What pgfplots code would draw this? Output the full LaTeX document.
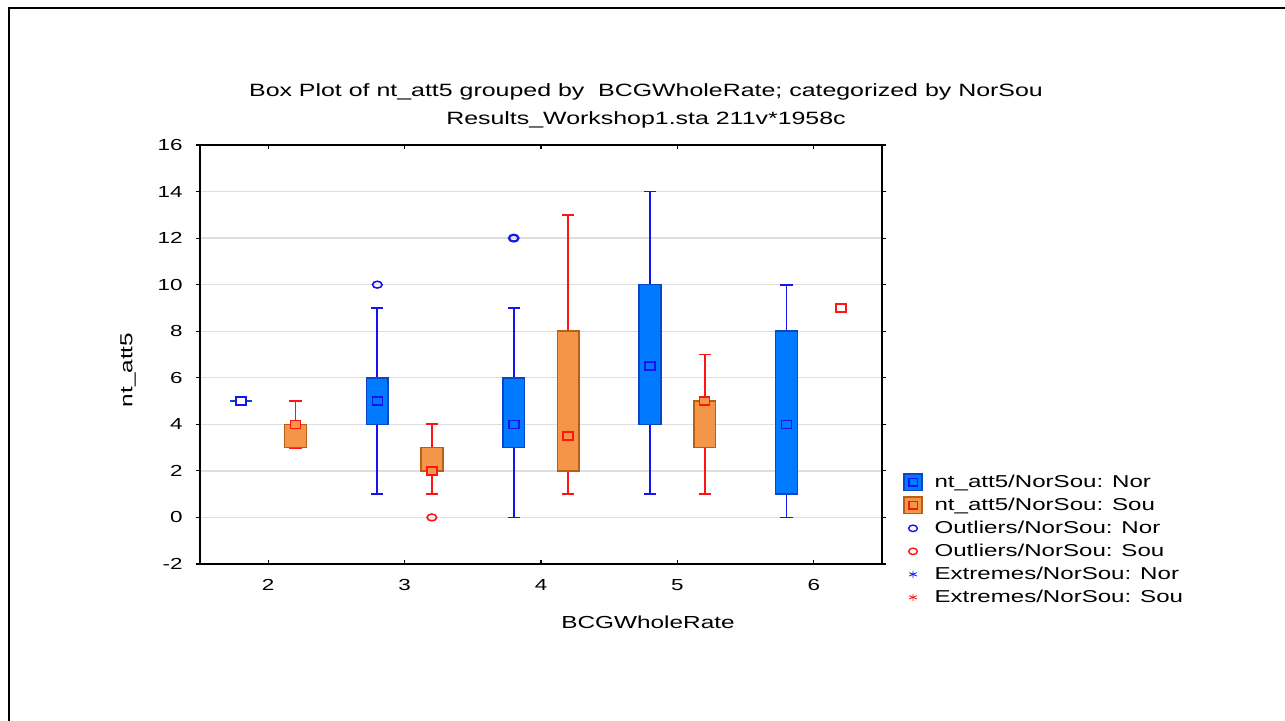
\documentclass[border=0pt]{standalone}
\usepackage{pgfplots}
\pgfplotsset{compat=1.18}
\usepgfplotslibrary{statistics}
\usepackage{fontspec}
\setmainfont{Liberation Sans}[FakeStretch=1.4]
\definecolor{norfill}{RGB}{0,122,255}
\definecolor{norborder}{RGB}{10,70,200}
\definecolor{norline}{RGB}{20,20,240}
\definecolor{soufill}{RGB}{243,150,71}
\definecolor{souborder}{RGB}{185,95,20}
\definecolor{souline}{RGB}{255,20,20}
\pgfplotsset{
  norbox/.style={norline, line width=0.9pt, forget plot,
    boxplot/draw direction=y,
    boxplot/box extend=0.16, boxplot/whisker extend=0.09,
    boxplot/every whisker/.style={line width=0.9pt},
    boxplot/every box/.style={draw=norborder, fill=norfill, line width=0.8pt},
    boxplot/every median/.style={draw=none}},
  soubox/.style={souline, line width=0.9pt, forget plot,
    boxplot/draw direction=y,
    boxplot/box extend=0.16, boxplot/whisker extend=0.09,
    boxplot/every whisker/.style={line width=0.9pt},
    boxplot/every box/.style={draw=souborder, fill=soufill, line width=0.8pt},
    boxplot/every median/.style={draw=none}},
}
\begin{document}
\begin{tikzpicture}
\path[use as bounding box] (-100pt,-78.5pt) rectangle (542.5pt,282pt);
\draw[line width=1.1pt] (-95.5pt,-80pt) -- (-95.5pt,278pt) -- (545pt,278pt);
\begin{axis}[
  at={(0pt,0pt)}, anchor=south west,
  scale only axis, width=341pt, height=209.5pt,
  xmin=1.5, xmax=6.5, ymin=-2, ymax=16,
  xtick={2,3,4,5,6}, ytick={-2,0,2,4,6,8,10,12,14,16},
  xtick align=inside, ytick align=outside,
  major tick length=2.2pt,
  every tick/.style={black, line width=0.6pt},
  axis line style={line width=0.9pt},
  ymajorgrids, major grid style={draw=black!13, line width=0.7pt},
  /pgf/number format/assume math mode=true,
  ticklabel style={font=\fontsize{8}{9.6}\selectfont},
  yticklabel style={xshift=-3pt},
  xticklabel style={yshift=-4pt},
  legend style={draw=none, fill=none, inner sep=0pt,
    at={(1.0308,0.218)}, anchor=north west,
    font=\fontsize{8.6}{10}\selectfont,
    nodes={inner sep=0.5pt, text height=6.5pt, text depth=1.8pt, anchor=west},
    row sep=2.2pt,
    /tikz/every odd column/.style={column sep=5.5pt}},
  legend cell align=left,
]
% box plots (Nor = blue, Sou = orange)
\addplot[norbox, boxplot prepared={draw position=1.8, lower whisker=5, lower quartile=5, median=5, upper quartile=5, upper whisker=5}] coordinates {};
\addplot[soubox, boxplot prepared={draw position=2.2, lower whisker=3, lower quartile=3, median=4, upper quartile=4, upper whisker=5}] coordinates {};
\addplot[norbox, boxplot prepared={draw position=2.8, lower whisker=1, lower quartile=4, median=5, upper quartile=6, upper whisker=9}] coordinates {};
\addplot[soubox, boxplot prepared={draw position=3.2, lower whisker=1, lower quartile=2, median=2, upper quartile=3, upper whisker=4}] coordinates {};
\addplot[norbox, boxplot prepared={draw position=3.8, lower whisker=0, lower quartile=3, median=4, upper quartile=6, upper whisker=9}] coordinates {};
\addplot[soubox, boxplot prepared={draw position=4.2, lower whisker=1, lower quartile=2, median=3.5, upper quartile=8, upper whisker=13}] coordinates {};
\addplot[norbox, boxplot prepared={draw position=4.8, lower whisker=1, lower quartile=4, median=6.5, upper quartile=10, upper whisker=14}] coordinates {};
\addplot[soubox, boxplot prepared={draw position=5.2, lower whisker=1, lower quartile=3, median=5, upper quartile=5, upper whisker=7}] coordinates {};
\addplot[norbox, boxplot prepared={draw position=5.8, lower whisker=0, lower quartile=1, median=4, upper quartile=8, upper whisker=10}] coordinates {};
% median markers
\addplot[only marks, forget plot, mark=square*, mark size=2pt, mark options={draw=norline, fill=norfill, line width=0.8pt, xscale=1.25}] coordinates {(2.8,5) (3.8,4) (4.8,6.5) (5.8,4)};
\addplot[only marks, forget plot, mark=square*, mark size=2pt, mark options={draw=norline, fill=white, line width=0.8pt, xscale=1.25}] coordinates {(1.8,5)};
\addplot[only marks, forget plot, mark=square*, mark size=2pt, mark options={draw=souline, fill=soufill, line width=0.8pt, xscale=1.25}] coordinates {(2.2,4) (3.2,2) (4.2,3.5) (5.2,5)};
\addplot[only marks, forget plot, mark=square*, mark size=2pt, mark options={draw=souline, fill=white, line width=0.8pt, xscale=1.25}] coordinates {(6.2,9)};
% outliers
\addplot[only marks, forget plot, mark=o, mark size=1.7pt, mark options={draw=norline, line width=0.8pt, xscale=1.4}] coordinates {(2.8,10)};
\addplot[only marks, forget plot, mark=o, mark size=1.7pt, mark options={draw=norline, line width=1.1pt, xscale=1.4}] coordinates {(3.8,12)};
\addplot[only marks, forget plot, mark=o, mark size=1.7pt, mark options={draw=souline, line width=0.8pt, xscale=1.4}] coordinates {(3.2,0)};
% legend
\addlegendimage{legend image code/.code={\draw[draw=norborder, fill=norfill, line width=0.6pt] (0pt,-4.2pt) rectangle (9pt,4.2pt); \draw[norline, line width=0.7pt] (2.4pt,-1.8pt) rectangle (6.6pt,1.8pt);}}
\addlegendentry{nt\_att5/NorSou: Nor}
\addlegendimage{legend image code/.code={\draw[draw=souborder, fill=soufill, line width=0.6pt] (0pt,-4.2pt) rectangle (9pt,4.2pt); \draw[souline, line width=0.7pt] (2.4pt,-1.8pt) rectangle (6.6pt,1.8pt);}}
\addlegendentry{nt\_att5/NorSou: Sou}
\addlegendimage{legend image code/.code={\draw[norline, line width=0.7pt] (4.5pt,0pt) ellipse (2.2pt and 1.6pt);}}
\addlegendentry{Outliers/NorSou: Nor}
\addlegendimage{legend image code/.code={\draw[souline, line width=0.7pt] (4.5pt,0pt) ellipse (2.2pt and 1.6pt);}}
\addlegendentry{Outliers/NorSou: Sou}
\addlegendimage{legend image code/.code={\draw[norline, line width=0.4pt] plot[mark=asterisk, mark size=1.7pt, mark options={xscale=1.3}] coordinates {(4.5pt,0pt)};}}
\addlegendentry{Extremes/NorSou: Nor}
\addlegendimage{legend image code/.code={\draw[souline, line width=0.4pt] plot[mark=asterisk, mark size=1.7pt, mark options={xscale=1.3}] coordinates {(4.5pt,0pt)};}}
\addlegendentry{Extremes/NorSou: Sou}
\end{axis}
\node[font=\fontsize{8.9}{10}\selectfont] at (223pt,236pt) {Box Plot of nt\_att5 grouped by\ \ BCGWholeRate; categorized by NorSou};
\node[font=\fontsize{8.9}{10}\selectfont] at (223pt,222pt) {Results\_Workshop1.sta 211v*1958c};
\node[font=\fontsize{8.7}{10}\selectfont] at (224pt,-29pt) {BCGWholeRate};
\node[font=\fontsize{8.7}{10}\selectfont, rotate=90] at (-36pt,97pt) {nt\_att5};
\end{tikzpicture}
\end{document}
